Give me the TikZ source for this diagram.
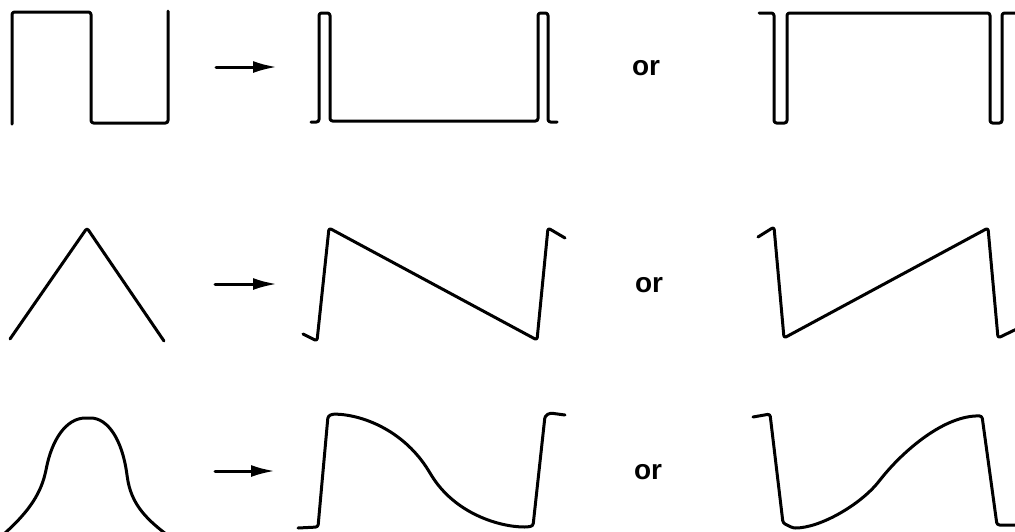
\documentclass[tikz,border=0pt]{standalone}
\usepackage{fontspec}
\setmainfont{Liberation Sans}
\usepackage{tikz}
\usetikzlibrary{arrows.meta}

\begin{document}
\begin{tikzpicture}[line cap=round,line join=round,
 x={(1pt,0pt)},y={(0pt,-1pt)},
 wave/.style={line width=3pt,rounded corners=2.5pt},
 arr/.style={line width=3pt,-{Latex[length=24pt,width=12pt]}},
 orlabel/.style={inner sep=0pt,font=\fontsize{28}{30}\selectfont\bfseries}]
 \clip (0,0) rectangle (1015,531);
 % Wiersz 1: fala prostokątna i dwa możliwe wyniki.
 \draw[wave] (12,124)--(12,12)--(91,12)--(91,123)--(168,123)--(168,11);
 \coordinate (sqA) at (216,67);
 \coordinate (sqB) at (277,67);
 \draw[arr] (sqA)--(sqB);
 \draw[wave] (311,122)--(319,122)--(319,13)--(330,13)--(330,121)
  --(538,121)--(538,13)--(548,13)--(548,122)--(557,122);
 \node[orlabel] (orSq) at (646,68) {or};
 \draw[wave] (759,13)--(774,13)--(774,123)--(787,123)--(787,13)
  --(990,13)--(990,123)--(1002,123)--(1002,13)--(1025,13);
 % Wiersz 2: trójkąt i piłokształtne odpowiedzi.
 \draw[wave] (10,339)--(87,228)--(164,341);
 \coordinate (trA) at (215,284);
 \coordinate (trB) at (277,284);
 \draw[arr] (trA)--(trB);
 \draw[wave] (303,334)--(317,341)--(329,228)--(537,340)--(548,228)--(565,238);
 \node[orlabel] (orTr) at (649,285) {or};
 \draw[wave] (758,237)--(774,227)--(784,338)--(988,228)--(998,338)--(1025,325);
 % Wiersz 3: impuls dzwonowy.
 \draw[wave] (4,534) .. controls (25,515) and (40,497) .. (46,470)
  .. controls (52,440) and (66,418) .. (88,418)
  .. controls (108,418) and (122,440) .. (127,475)
  .. controls (131,503) and (145,518) .. (166,534);
 \coordinate (bellA) at (215,471);
 \coordinate (bellB) at (275,471);
 \draw[arr] (bellA)--(bellB);
 \draw[wave] (298,528)--(318,527)--(328,416)--(333,414)
  .. controls (365,415) and (405,432) .. (430,473)
  .. controls (455,514) and (500,527) .. (527,527)
  --(533,526)--(545,416)--(550,413)--(565,415);
 \node[orlabel] (orBell) at (648,472) {or};
 \draw[wave] (753,417)--(770,414)--(783,523)--(793,528)
  .. controls (820,528) and (860,505) .. (880,480)
  .. controls (904,450) and (945,415) .. (982,416)
  --(997,525)--(1025,525);
\end{tikzpicture}
\end{document}
